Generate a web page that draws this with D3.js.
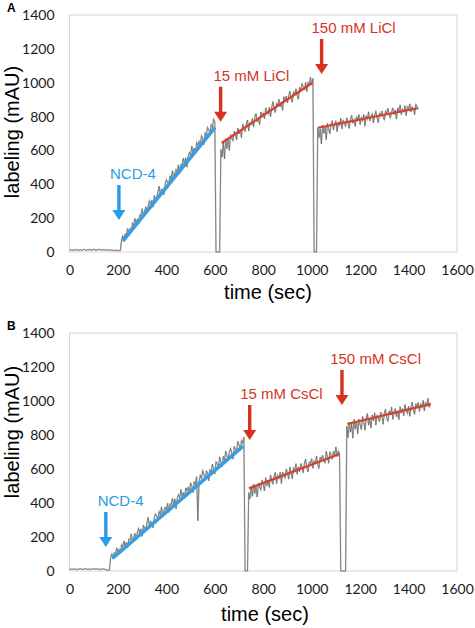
<!DOCTYPE html>
<html><head><meta charset="utf-8">
<script src="https://cdn.jsdelivr.net/npm/d3@7"></script>
<style>body{margin:0;background:#fff}</style></head>
<body>
<svg id="c" width="475" height="628"></svg>
<script>
// ---------- shared ----------
const STEP = 5; // seconds between samples
const yTicks = [0, 200, 400, 600, 800, 1000, 1200, 1400];
const xTicks = [0, 200, 400, 600, 800, 1000, 1200, 1400, 1600];

// ---------- Panel A (LiCl) ----------
const segStartA = [0, 215, 625, 1025];
const baseA = [12,10,14,9,13,11,15,10,12,14,9,13,16,11,10,14,12,15,11,13,17,12,10,14,13,16,12,11,15,13,10,14,12,9,13,11,10,8,12,9,7,10,8];
const rampA = [71,95,69,107,101,140,109,138,116,170,159,198,167,195,164,218,217,256,214,238,267,231,275,303,277,306,265,334,317,316,355,389,338,371,365,339,403,427,410,404,448,432,481,429,468,487,471,515,463,517,516,555,519,557,501,565,589,573,626,585,614,583,647,630,654,633,687,671,634,703,687,736,720,708,752,736,785,769];
const li15A = [606,561,645,550,670,610,669,599,694,674,658,713,693,662,732,697,722,676,756,731,711,755,780,715,764,754,789,739,793,818,768,793,752,827,802,821,786,851,831,815,855,800,854,889,844,824,878,868,903,858,887,837,917,891,921,881,921,950,910,885,945,934,964,924,903,973,953,993,977,957,1002,947,1001,991,1031,990,1025];
const li150A = [734,675,727,638,750,701,737,664,760,727,698,754,776,722,754,775,711,768,749,791,727,778,765,741,793,764,730,782,808,760,781,742,799,780,812,753,794,776,812,744,805,786,828,774,801,817,763,810,831,793,764,820,807,833,795,781,832,819,850,812,793,829,851,812,839,785,851,828,869,811,842,828,865,806,858,844,875,827,858,845,811,872,859,840];
const dropsA = [[605, 620], [1010, 1020]];
const fitsA = [[220, 65, 600, 735], [628, 644, 1004, 1000], [1026, 734, 1437, 849]];
const arrowLabelsA = ["NCD-4", "15 mM LiCl", "150 mM LiCl"];
const arrowTimeA = [204, 624, 1041];
const arrowTipA = [189, 770, 1051];
const labelTimeA = [262, 751, 1173];

// ---------- Panel B (CsCl) ----------
const segStartB = [0, 170, 740, 1145];
const baseB = [10,12,9,11,13,10,8,12,11,14,10,9,12,13,11,10,12,9,11,14,12,10,13,11,9,12,10,11,13,10,8,6,5,7];
const rampB = [80,101,72,108,99,136,102,128,104,155,141,177,143,170,136,187,183,219,175,196,222,184,225,251,222,248,204,270,251,247,284,315,261,292,283,254,315,336,318,309,350,331,377,323,359,375,357,398,344,395,391,427,388,424,365,427,448,429,480,436,462,428,489,471,492,468,519,500,461,527,508,555,296,522,563,544,590,571,532,588,580,531,597,578,629,600,571,642,634,610,671,642,613,674,650,706,678,654,700,721,692,658,734,715,707,763,744,710,766,752,788];
const cs15B = [461,424,496,439,512,455,497,435,518,495,478,536,508,471,549,502,534,492,565,532,510,558,580,513,561,544,581,514,582,564,547,600,577,540,613,576,543,606,589,631,569,612,584,632,610,578,635,658,606,583,641,634,661,604,647,635,677,625,603,670,653,681,648,636,704,672,634,702,685,657,705,683,730,673,706,689];
const cs150B = [852,784,875,817,864,781,892,834,881,807,894,861,832,909,876,828,899,926,858,894,841,918,884,931,858,915,901,878,935,911,863,930,951,898,880,942,918,965,892,933,955,907,943,890,967,929,955,912,979,945,927,969,910,962,994,946,922,984,966,992,939,981,962,1004,941,993,974,1016,963,989];
const dropsB = [[725, 735], [1120, 1140]];
const fitsB = [[178, 75, 717, 735], [741, 486, 1115, 688], [1147, 865, 1491, 982]];
const arrowLabelsB = ["NCD-4", "15 mM CsCl", "150 mM CsCl"];
const arrowTimeB = [150, 744, 1125];
const arrowTipB = [141, 771, 976];
const labelTimeB = [211, 875, 1264];

// ---------- drawing ----------
const svg = d3.select("#c");
const BLUE = "#2a9be6", RED = "#d7321e";

function buildTrace(segs, starts, drops) {
  const pts = [];
  segs.forEach((seg, k) => {
    if (k >= 2) {
      const d = drops[k - 2];
      pts.push([d[0], 0], [d[1], 0]);
    }
    seg.forEach((v, i) => pts.push([starts[k] + i * STEP, v]));
  });
  return pts;
}

function panel(o) {
  const g = svg.append("g");
  const x = d3.scaleLinear().domain([0, 1600]).range([o.left, o.right]);
  const y = d3.scaleLinear().domain([0, 1400]).range([o.bottom, o.top]);

  g.append("rect").attr("x", o.left).attr("y", o.top)
    .attr("width", o.right - o.left).attr("height", o.bottom - o.top)
    .attr("fill", "none").attr("stroke", "#d4d4d4").attr("stroke-width", 1);

  const fmt = d3.format("d");
  const ya = g.append("g").attr("transform", `translate(${o.left - 6},0)`)
    .call(d3.axisLeft(y).tickValues(yTicks).tickFormat(fmt).tickSize(0).tickPadding(9));
  const xa = g.append("g").attr("transform", `translate(0,${o.bottom + 13})`)
    .call(d3.axisBottom(x).tickValues(xTicks).tickFormat(fmt).tickSize(0).tickPadding(0));
  [ya, xa].forEach(a => {
    a.select(".domain").remove();
    a.selectAll("text").attr("font-family", "Lato, 'Open Sans', sans-serif")
      .attr("font-size", 14).attr("fill", "#1a1a1a");
  });

  const trace = buildTrace(o.segs, o.starts, o.drops);
  const line = d3.line().x(d => x(d[0])).y(d => y(d[1]));
  g.append("path").datum(trace).attr("d", line).attr("fill", "none")
    .attr("stroke", "#c4c4c4").attr("stroke-width", 1.5);
  g.append("path").datum(trace).attr("d", line).attr("fill", "none")
    .attr("stroke", "#555").attr("stroke-width", 0.6);

  o.fits.forEach((f, i) => {
    g.append("line").attr("x1", x(f[0])).attr("y1", y(f[1]))
      .attr("x2", x(f[2])).attr("y2", y(f[3]))
      .attr("stroke", i === 0 ? "#3a9de0" : "#d8402a")
      .attr("stroke-width", i === 0 ? 3.6 : 2.2);
  });

  o.labels.forEach((lab, i) => {
    const c = i === 0 ? BLUE : RED;
    const ax = x(o.aTime[i]), tip = y(o.aTip[i]);
    const L = 35, hh = 10, hw = 6.5, sw = 1.7;
    g.append("path").attr("fill", c).attr("d",
      `M${ax - sw},${tip - L}L${ax + sw},${tip - L}L${ax + sw},${tip - hh}L${ax + hw},${tip - hh}L${ax},${tip}L${ax - hw},${tip - hh}L${ax - sw},${tip - hh}Z`);
    g.append("text").attr("x", x(o.lTime[i])).attr("y", tip - L - 6)
      .attr("text-anchor", "middle").attr("font-family", "'Liberation Sans', Arial, sans-serif")
      .attr("font-size", 15).attr("fill", c).text(lab);
  });

  g.append("text").attr("x", o.xtX).attr("y", o.xtY).attr("text-anchor", "middle")
    .attr("font-family", "'Liberation Sans', Arial, sans-serif").attr("font-size", 20)
    .attr("fill", "#000").text("time (sec)");
  g.append("text").attr("transform", `translate(19,${o.ytY}) rotate(-90)`)
    .attr("text-anchor", "middle")
    .attr("font-family", "'Liberation Sans', Arial, sans-serif").attr("font-size", 20)
    .attr("fill", "#000").text("labeling (mAU)");
  g.append("text").attr("x", 7).attr("y", o.top - 3)
    .attr("font-family", "'Liberation Sans', Arial, sans-serif").attr("font-size", 12)
    .attr("font-weight", "bold").attr("fill", "#000").text(o.tag);
}

panel({tag: "A", left: 69.5, right: 457, top: 15, bottom: 252,
  segs: [baseA, rampA, li15A, li150A], starts: segStartA, drops: dropsA, fits: fitsA,
  labels: arrowLabelsA, aTime: arrowTimeA, aTip: arrowTipA, lTime: labelTimeA,
  xtX: 268, xtY: 299, ytY: 132});
panel({tag: "B", left: 69.5, right: 457, top: 333, bottom: 571,
  segs: [baseB, rampB, cs15B, cs150B], starts: segStartB, drops: dropsB, fits: fitsB,
  labels: arrowLabelsB, aTime: arrowTimeB, aTip: arrowTipB, lTime: labelTimeB,
  xtX: 265, xtY: 621, ytY: 432});
</script>
</body></html>
